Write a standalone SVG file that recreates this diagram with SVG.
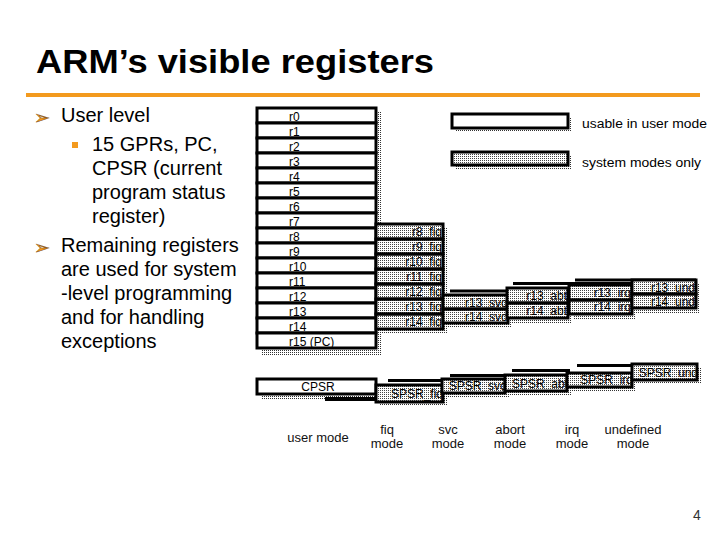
<svg xmlns="http://www.w3.org/2000/svg" width="720" height="540" viewBox="0 0 720 540">
<defs>
<pattern id="dots" width="2" height="2" patternUnits="userSpaceOnUse"><rect width="2" height="2" fill="#fff"/><rect width="1" height="1" fill="#444"/></pattern>
<pattern id="sdots" width="2" height="2" patternUnits="userSpaceOnUse"><rect width="1" height="1" fill="#333"/></pattern>
</defs>
<style>
.b{stroke:#000;stroke-width:3}
.w{fill:#fff}
.g{fill:url(#dots)}
.sh{fill:url(#sdots)}
.k{fill:#000}
.r{font-family:"Liberation Sans",Arial,sans-serif;font-size:12px;fill:#000}
.re{font-family:"Liberation Sans",Arial,sans-serif;font-size:12px;fill:#000;text-anchor:end}
.m{font-family:"Liberation Sans",Arial,sans-serif;font-size:13px;fill:#111;text-anchor:middle}
.t{font-family:"Liberation Sans",Arial,sans-serif;font-size:20px;fill:#000}
.o{fill:#F39A1E}
.ar{fill:#F39A1E;stroke:#7a4a10;stroke-width:0.4;font-family:"DejaVu Sans",sans-serif;font-size:19px}
</style>
<rect width="720" height="540" fill="#fff"/>

<g id="title">
<text x="36" y="73" font-family="'Liberation Sans',Arial,sans-serif" font-weight="bold" font-size="33" textLength="398" lengthAdjust="spacingAndGlyphs">ARM’s visible registers</text>
<rect class="o" x="26" y="93" width="674" height="4"/>
</g>

<g id="bullets">
<text class="ar" x="34" y="124">➢</text>
<text class="t" x="61" y="122">User level</text>
<rect class="o" x="72" y="142" width="6" height="6"/>
<text class="t" x="92" y="151">15 GPRs, PC,</text>
<text class="t" x="92" y="175">CPSR (current</text>
<text class="t" x="92" y="199">program status</text>
<text class="t" x="92" y="223">register)</text>
<text class="ar" x="34" y="254">➢</text>
<text class="t" x="61" y="252">Remaining registers</text>
<text class="t" x="61" y="276">are used for system</text>
<text class="t" x="61" y="300">-level programming</text>
<text class="t" x="61" y="324">and for handling</text>
<text class="t" x="61" y="348">exceptions</text>
</g>

<g id="legend-user">
<rect class="sh" x="456" y="118" width="116" height="14"/>
<rect class="b w" x="452" y="114" width="116" height="14"/>
<text class="r" x="582" y="128" font-size="14" textLength="125" lengthAdjust="spacingAndGlyphs">usable in user mode</text>
</g>
<g id="legend-system">
<rect class="sh" x="456" y="156" width="116" height="13"/>
<rect class="b g" x="452" y="152" width="116" height="13"/>
<text class="r" x="582" y="167" font-size="14" textLength="119" lengthAdjust="spacingAndGlyphs">system modes only</text>
</g>

<g id="reg-main">
<rect class="sh" x="261" y="112" width="120" height="243"/>
<rect class="b w" x="257" y="108" width="119" height="15"/>
<rect class="b w" x="257" y="123" width="119" height="15"/>
<rect class="b w" x="257" y="138" width="119" height="15"/>
<rect class="b w" x="257" y="153" width="119" height="15"/>
<rect class="b w" x="257" y="168" width="119" height="15"/>
<rect class="b w" x="257" y="183" width="119" height="15"/>
<rect class="b w" x="257" y="198" width="119" height="15"/>
<rect class="b w" x="257" y="213" width="119" height="15"/>
<rect class="b w" x="257" y="228" width="119" height="15"/>
<rect class="b w" x="257" y="243" width="119" height="15"/>
<rect class="b w" x="257" y="258" width="119" height="15"/>
<rect class="b w" x="257" y="273" width="119" height="15"/>
<rect class="b w" x="257" y="288" width="119" height="15"/>
<rect class="b w" x="257" y="303" width="119" height="15"/>
<rect class="b w" x="257" y="318" width="119" height="15"/>
<rect class="b w" x="257" y="333" width="119" height="15"/>
<text class="r" x="289" y="121">r0</text>
<text class="r" x="289" y="136">r1</text>
<text class="r" x="289" y="151">r2</text>
<text class="r" x="289" y="166">r3</text>
<text class="r" x="289" y="181">r4</text>
<text class="r" x="289" y="196">r5</text>
<text class="r" x="289" y="211">r6</text>
<text class="r" x="289" y="226">r7</text>
<text class="r" x="289" y="241">r8</text>
<text class="r" x="289" y="256">r9</text>
<text class="r" x="289" y="271">r10</text>
<text class="r" x="289" y="286">r11</text>
<text class="r" x="289" y="301">r12</text>
<text class="r" x="289" y="316">r13</text>
<text class="r" x="289" y="331">r14</text>
<text class="r" x="289" y="346">r15 (PC)</text>
</g>

<g id="reg-fiq">
<rect class="sh" x="380" y="228" width="67" height="106"/>
<rect class="g" x="376" y="224" width="67" height="105"/>
<text class="re" x="442" y="236">r8_fiq</text>
<text class="re" x="442" y="251">r9_fiq</text>
<text class="re" x="442" y="266">r10_fiq</text>
<text class="re" x="442" y="281">r11_fiq</text>
<text class="re" x="442" y="296">r12_fiq</text>
<text class="re" x="442" y="311">r13_fiq</text>
<text class="re" x="442" y="326">r14_fiq</text>
<g fill="none" class="b">
<rect x="376" y="224" width="67" height="15"/>
<rect x="376" y="239" width="67" height="15"/>
<rect x="376" y="254" width="67" height="15"/>
<rect x="376" y="269" width="67" height="15"/>
<rect x="376" y="284" width="67" height="15"/>
<rect x="376" y="299" width="67" height="15"/>
<rect x="376" y="314" width="67" height="15"/>
</g>
</g>

<g id="reg-svc">
<rect class="sh" x="447" y="299" width="65" height="29"/>
<rect class="k" x="450" y="289.5" width="58" height="3"/>
<rect class="g" x="443" y="295" width="65" height="28"/>
<text class="re" x="507" y="307">r13_svc</text>
<text class="re" x="507" y="321">r14_svc</text>
<g fill="none" class="b">
<rect x="443" y="295" width="65" height="14"/>
<rect x="443" y="309" width="65" height="14"/>
</g>
</g>

<g id="reg-abt">
<rect class="sh" x="511" y="292" width="61" height="31"/>
<rect class="k" x="513" y="282" width="119" height="3"/>
<rect class="g" x="507" y="288" width="61" height="30"/>
<text class="re" x="567" y="300">r13_abt</text>
<text class="re" x="567" y="315">r14_abt</text>
<g fill="none" class="b">
<rect x="507" y="288" width="61" height="15"/>
<rect x="507" y="303" width="61" height="15"/>
</g>
</g>

<g id="reg-irq">
<rect class="sh" x="573" y="289" width="63" height="30"/>
<rect class="k" x="575" y="278.5" width="121" height="3"/>
<rect class="g" x="569" y="285" width="63" height="29"/>
<text class="re" x="631" y="297">r13_irq</text>
<text class="re" x="631" y="311">r14_irq</text>
<g fill="none" class="b">
<rect x="569" y="285" width="63" height="15"/>
<rect x="569" y="300" width="63" height="14"/>
</g>
</g>

<g id="reg-und">
<rect class="sh" x="636" y="284" width="64" height="29"/>
<rect class="g" x="632" y="280" width="64" height="28"/>
<text class="re" x="695" y="292">r13_und</text>
<text class="re" x="695" y="306">r14_und</text>
<g fill="none" class="b">
<rect x="632" y="280" width="64" height="14"/>
<rect x="632" y="294" width="64" height="14"/>
</g>
</g>

<g id="cpsr">
<rect class="sh" x="261" y="383" width="119" height="16"/>
<rect class="b w" x="257" y="379" width="119" height="15"/>
<text class="r" x="318" y="391" text-anchor="middle">CPSR</text>
</g>

<g id="spsr-fiq">
<rect class="sh" x="380" y="389" width="67" height="17"/>
<rect class="k" x="325" y="397" width="51" height="4"/>
<rect class="k" x="388" y="379" width="55" height="3"/>
<rect class="g" x="376" y="385" width="67" height="17"/>
<text class="re" x="443" y="398">SPSR_fiq</text>
<rect class="b" fill="none" x="376" y="385" width="67" height="17"/>
</g>

<g id="spsr-svc">
<rect class="sh" x="446" y="383" width="63" height="15"/>
<rect class="k" x="450" y="374" width="55" height="3"/>
<rect class="g" x="442" y="379" width="63" height="14"/>
<text class="re" x="506" y="390">SPSR_svc</text>
<rect class="b" fill="none" x="442" y="379" width="63" height="14"/>
</g>

<g id="spsr-abt">
<rect class="sh" x="509" y="379" width="62" height="16"/>
<rect class="k" x="512" y="369" width="58" height="3"/>
<rect class="g" x="505" y="375" width="62" height="16"/>
<text class="re" x="568" y="388">SPSR_abt</text>
<rect class="b" fill="none" x="505" y="375" width="62" height="16"/>
</g>

<g id="spsr-irq">
<rect class="sh" x="571" y="377" width="65" height="14"/>
<rect class="k" x="577" y="364" width="55" height="3"/>
<rect class="g" x="567" y="373" width="65" height="14"/>
<text class="re" x="633" y="384">SPSR_irq</text>
<rect class="b" fill="none" x="567" y="373" width="65" height="14"/>
</g>

<g id="spsr-und">
<rect class="sh" x="636" y="368" width="65" height="16"/>
<rect class="g" x="632" y="364" width="65" height="16"/>
<text class="re" x="698" y="377">SPSR_und</text>
<rect class="b" fill="none" x="632" y="364" width="65" height="16"/>
</g>

<g id="mode-labels">
<text class="m" x="318" y="442">user mode</text>
<text class="m" x="387" y="434">fiq</text>
<text class="m" x="387" y="448">mode</text>
<text class="m" x="448" y="434">svc</text>
<text class="m" x="448" y="448">mode</text>
<text class="m" x="510" y="434">abort</text>
<text class="m" x="510" y="448">mode</text>
<text class="m" x="572" y="434">irq</text>
<text class="m" x="572" y="448">mode</text>
<text class="m" x="633" y="434">undefined</text>
<text class="m" x="633" y="448">mode</text>
</g>

<g id="page-number">
<text x="697" y="520" font-family="'Liberation Sans',Arial,sans-serif" font-size="14" fill="#333" text-anchor="middle">4</text>
</g>
</svg>
